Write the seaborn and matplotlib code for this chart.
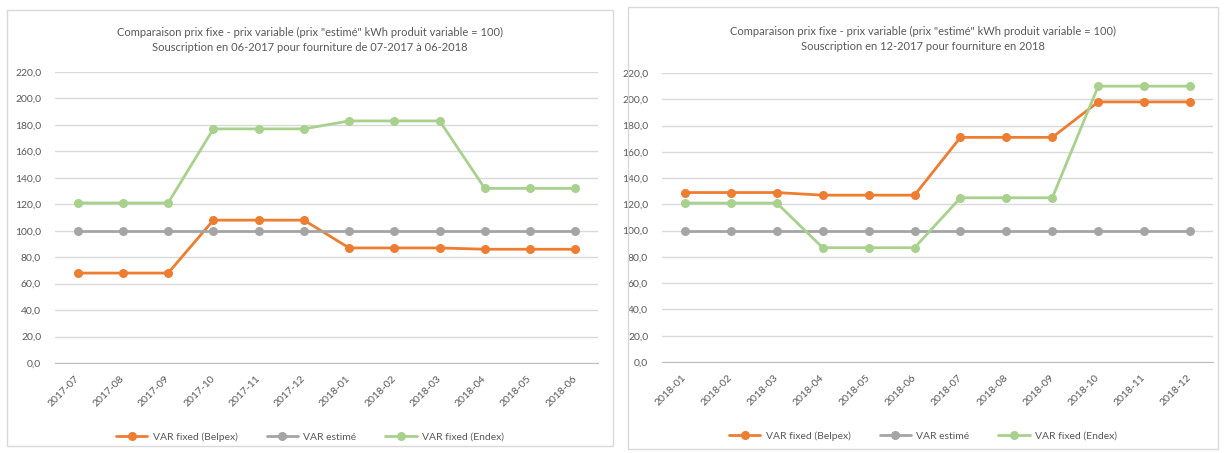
import pandas as pd
import matplotlib.pyplot as plt
import seaborn as sns
from matplotlib.patches import Rectangle

# Data
months_left = ['2017-07', '2017-08', '2017-09', '2017-10', '2017-11', '2017-12',
               '2018-01', '2018-02', '2018-03', '2018-04', '2018-05', '2018-06']
belpex_left = [68, 68, 68, 108, 108, 108, 87, 87, 87, 86, 86, 86]
estime_left = [100, 100, 100, 100, 100, 100, 100, 100, 100, 100, 100, 100]
endex_left = [121, 121, 121, 177, 177, 177, 183, 183, 183, 132, 132, 132]

months_right = ['2018-01', '2018-02', '2018-03', '2018-04', '2018-05', '2018-06',
                '2018-07', '2018-08', '2018-09', '2018-10', '2018-11', '2018-12']
belpex_right = [129, 129, 129, 127, 127, 127, 171, 171, 171, 198, 198, 198]
estime_right = [100, 100, 100, 100, 100, 100, 100, 100, 100, 100, 100, 100]
endex_right = [121, 121, 121, 87, 87, 87, 125, 125, 125, 210, 210, 210]

series_names = ['VAR fixed (Belpex)', 'VAR estimé', 'VAR fixed (Endex)']
colors = ['#ED7D31', '#A5A5A5', '#A9D18E']

title_line1 = 'Comparaison prix fixe - prix variable (prix "estimé" kWh produit variable = 100)'
title_left = title_line1 + '\nSouscription en 06-2017 pour fourniture de 07-2017 à 06-2018'
title_right = title_line1 + '\nSouscription en 12-2017 pour fourniture en 2018'
yticks = [0, 20, 40, 60, 80, 100, 120, 140, 160, 180, 200, 220]

sns.set_style("white")
plt.rcParams['font.family'] = ['Lato', 'DejaVu Sans']

W, H = 1226, 453
fig = plt.figure(figsize=(W / 100, H / 100), dpi=100)

# panel frames (Excel chart areas)
for x0, y0, x1, y1 in [(7, 10, 613, 446), (628, 7, 1218, 449)]:
    fig.patches.append(Rectangle((x0 / W, 1 - y1 / H), (x1 - x0) / W, (y1 - y0) / H,
                                 transform=fig.transFigure, fill=False,
                                 edgecolor='#D9D9D9', linewidth=1))


def draw(rect, months, belpex, estime, endex, title, title_y, legend_x, legend_y):
    ax = fig.add_axes(rect)
    df = pd.DataFrame({
        'mois': months * 3,
        'valeur': belpex + estime + endex,
        'serie': [series_names[0]] * 12 + [series_names[1]] * 12 + [series_names[2]] * 12,
    })
    sns.lineplot(data=df, x='mois', y='valeur', hue='serie', hue_order=series_names,
                 palette=colors, marker='o', markersize=6.5, markeredgewidth=0,
                 linewidth=2, ax=ax)
    ax.set_xlim(-0.5, 11.5)
    ax.set_ylim(0, 220)
    ax.set_yticks(yticks)
    ax.set_yticklabels([f'{v:.1f}'.replace('.', ',') for v in yticks])
    ax.yaxis.grid(True, color='#D9D9D9', linewidth=1)
    ax.set_axisbelow(True)
    for s in ['top', 'right', 'left']:
        ax.spines[s].set_visible(False)
    ax.spines['bottom'].set_color('#BFBFBF')
    ax.set_xticks(range(12))
    ax.set_xticklabels(months, rotation=45, ha='right', va='center',
                       rotation_mode='anchor')
    ax.set_xticks([i - 0.5 for i in range(13)], minor=True)
    ax.tick_params(axis='x', which='major', length=0, pad=10, labelsize=7.5,
                   labelcolor='#595959')
    ax.tick_params(axis='x', which='minor', length=4, color='#BFBFBF', direction='out')
    ax.tick_params(axis='y', length=0, pad=10, labelsize=7.5, labelcolor='#595959')
    ax.set_xlabel('')
    ax.set_ylabel('')
    handles, labels = ax.get_legend_handles_labels()
    ax.get_legend().remove()
    fig.legend(handles, labels, loc='center', bbox_to_anchor=(legend_x, legend_y),
               ncol=3, frameon=False, fontsize=7.5, labelcolor='#595959',
               handlelength=3, columnspacing=2.8, handletextpad=0.5)
    fig.text(legend_x, title_y, title, ha='center', va='center', fontsize=8,
             color='#595959', linespacing=1.5)


draw([55 / W, 1 - 363 / H, 543 / W, 291 / H], months_left, belpex_left, estime_left,
     endex_left, title_left, 1 - 40 / H, 310 / W, 1 - 437 / H)
draw([662 / W, 1 - 362 / H, 551 / W, 289 / H], months_right, belpex_right, estime_right,
     endex_right, title_right, 1 - 39 / H, 923 / W, 1 - 436 / H)

fig.savefig('out.png', dpi=100, facecolor='white')
